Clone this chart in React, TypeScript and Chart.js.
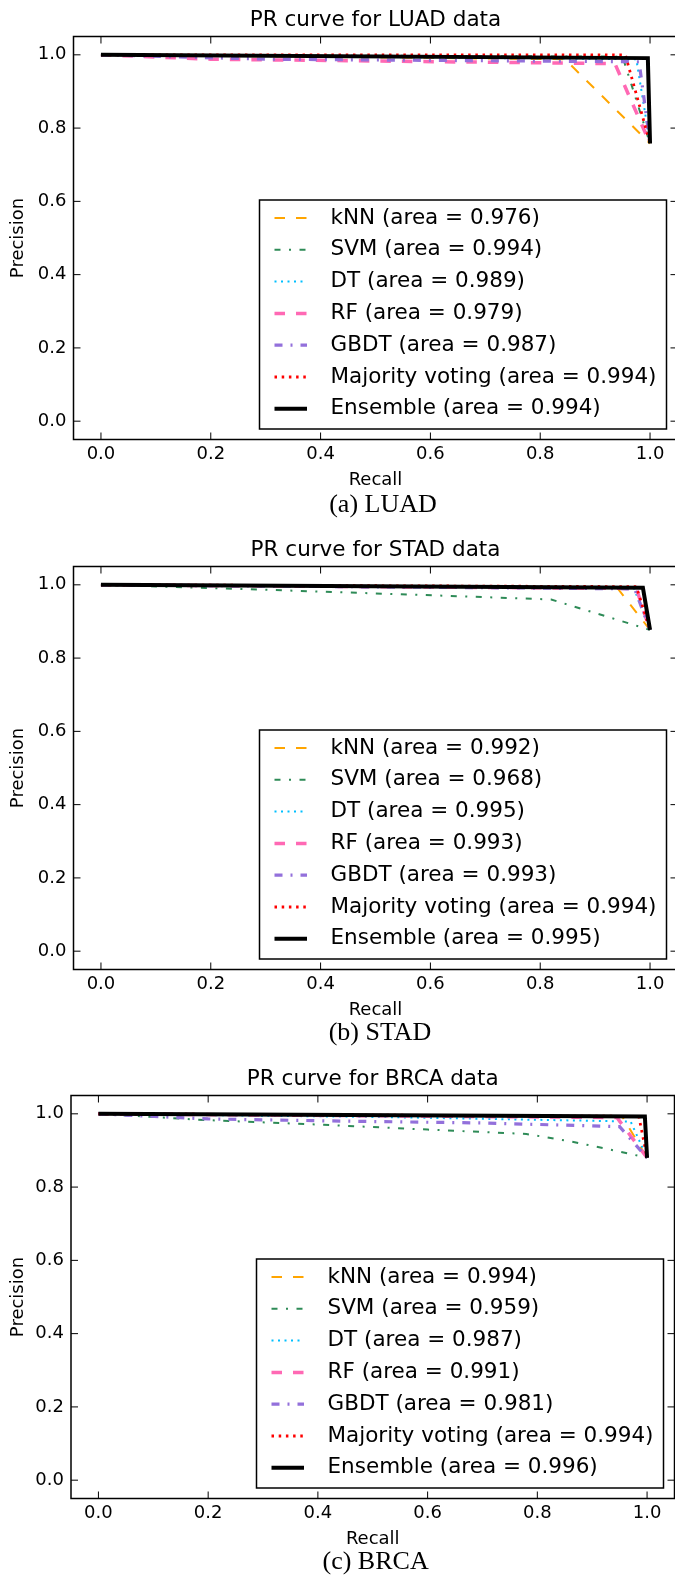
import React, { useEffect, useRef } from 'react';
import { Chart, registerables } from 'chart.js';

Chart.register(...registerables);

// ---------- shared labels / ticks ----------
const MODELS = ['kNN', 'SVM', 'DT', 'RF', 'GBDT', 'Majority voting', 'Ensemble'];
const X_TICKS = [0, 0.2, 0.4, 0.6, 0.8, 1.0];
const Y_TICKS = [0, 0.2, 0.4, 0.6, 0.8, 1.0];

// ---------- LUAD (recall, precision) ----------
const LUAD_KNN = [[0, 1], [0.845, 0.988], [1, 0.758]];
const LUAD_SVM = [[0, 1], [0.95, 0.995], [1, 0.758]];
const LUAD_DT = [[0, 1], [0.975, 0.988], [1, 0.758]];
const LUAD_RF = [[0, 1], [0.2, 0.988], [0.936, 0.976], [1, 0.758]];
const LUAD_GBDT = [[0, 1], [0.3, 0.988], [0.98, 0.981], [1, 0.758]];
const LUAD_MAJ = [[0, 1], [0.955, 1.0], [1, 0.758]];
const LUAD_ENS = [[0, 1], [0.996, 0.991], [1, 0.758]];
const LUAD_AREAS = ['0.976', '0.994', '0.989', '0.979', '0.987', '0.994', '0.994'];

// ---------- STAD ----------
const STAD_KNN = [[0, 1], [0.94, 0.992], [1, 0.877]];
const STAD_SVM = [[0, 1], [0.27, 0.988], [0.57, 0.973], [0.82, 0.96], [1, 0.877]];
const STAD_DT = [[0, 1], [0.97, 0.993], [1, 0.877]];
const STAD_RF = [[0, 1], [0.975, 0.99], [1, 0.877]];
const STAD_GBDT = [[0, 1], [0.972, 0.989], [1, 0.877]];
const STAD_MAJ = [[0, 1], [0.975, 0.995], [1, 0.877]];
const STAD_ENS = [[0, 1], [0.987, 0.992], [1, 0.877]];
const STAD_AREAS = ['0.992', '0.968', '0.995', '0.993', '0.993', '0.994', '0.995'];

// ---------- BRCA ----------
const BRCA_KNN = [[0, 1], [0.955, 0.992], [1, 0.88]];
const BRCA_SVM = [[0, 1], [0.06, 0.995], [0.18, 0.984], [0.41, 0.97], [0.6, 0.957], [0.78, 0.945], [0.86, 0.925], [0.95, 0.897], [1, 0.88]];
const BRCA_DT = [[0, 1], [0.53, 0.991], [0.97, 0.979], [1, 0.88]];
const BRCA_RF = [[0, 1], [0.945, 0.99], [1, 0.88]];
const BRCA_GBDT = [[0, 1], [0.2, 0.986], [0.45, 0.98], [0.7, 0.975], [0.95, 0.965], [1, 0.88]];
const BRCA_MAJ = [[0, 1], [0.985, 0.993], [1, 0.88]];
const BRCA_ENS = [[0, 1], [0.996, 0.993], [1, 0.88]];
const BRCA_AREAS = ['0.994', '0.959', '0.987', '0.991', '0.981', '0.994', '0.996'];

// ---------- styles ----------
const COLORS = ['#FFA500', '#2E8B57', '#00BFFF', '#FF69B4', '#9370DB', '#FF0000', '#000000'];
const WIDTHS = [2, 2, 2, 3.5, 3.2, 2.8, 4];
const DASHES = [[10.5, 11], [6, 8.5, 2, 8.5], [2, 4.5], [10.5, 11], [8, 8, 2, 8], [2.5, 4.7], []];

const SANS = '"DejaVu Sans", sans-serif';
const SERIF = '"Liberation Serif", serif';
const CANVAS_W = 700;
const CANVAS_H = 500;
const AREA_TOP = 36.5;
const AREA_BOTTOM = 439.5;

type PanelCfg = {
  title: string;
  caption: string;
  curves: number[][][];
  areas: string[];
  top: number;
  areaLeft: number;
  areaRight: number;
  captionX: number;
  captionY: number;
};

const PANELS: PanelCfg[] = [
  {
    title: 'PR curve for LUAD data',
    caption: '(a) LUAD',
    curves: [LUAD_KNN, LUAD_SVM, LUAD_DT, LUAD_RF, LUAD_GBDT, LUAD_MAJ, LUAD_ENS],
    areas: LUAD_AREAS,
    top: 0,
    areaLeft: 73.5,
    areaRight: 677.5,
    captionX: 383,
    captionY: 504,
  },
  {
    title: 'PR curve for STAD data',
    caption: '(b) STAD',
    curves: [STAD_KNN, STAD_SVM, STAD_DT, STAD_RF, STAD_GBDT, STAD_MAJ, STAD_ENS],
    areas: STAD_AREAS,
    top: 530,
    areaLeft: 73.5,
    areaRight: 677.5,
    captionX: 380,
    captionY: 502,
  },
  {
    title: 'PR curve for BRCA data',
    caption: '(c) BRCA',
    curves: [BRCA_KNN, BRCA_SVM, BRCA_DT, BRCA_RF, BRCA_GBDT, BRCA_MAJ, BRCA_ENS],
    areas: BRCA_AREAS,
    top: 1059,
    areaLeft: 71,
    areaRight: 674.5,
    captionX: 375.6,
    captionY: 502,
  },
];

function makeDecorPlugin(cfg: PanelCfg) {
  return {
    id: 'decor' + cfg.caption.replace(/\W/g, ''),
    afterDraw(chart: any) {
      const ctx = chart.ctx as CanvasRenderingContext2D;
      const { left, right, top, bottom } = chart.chartArea;
      const xs = chart.scales.x;
      const ys = chart.scales.y;
      ctx.save();
      // inward ticks on all four sides
      ctx.strokeStyle = '#000';
      ctx.lineWidth = 1;
      ctx.setLineDash([]);
      ctx.beginPath();
      for (const v of X_TICKS) {
        const px = xs.getPixelForValue(v);
        ctx.moveTo(px, bottom);
        ctx.lineTo(px, bottom - 7);
        ctx.moveTo(px, top);
        ctx.lineTo(px, top + 7);
      }
      for (const v of Y_TICKS) {
        const py = ys.getPixelForValue(v);
        ctx.moveTo(left, py);
        ctx.lineTo(left + 7, py);
        ctx.moveTo(right, py);
        ctx.lineTo(right - 7, py);
      }
      ctx.stroke();
      // frame
      ctx.lineWidth = 1.5;
      ctx.strokeRect(left, top, right - left, bottom - top);

      // legend
      const bw = 407;
      const bh = 229;
      const bx = right - 11 - bw;
      const by = bottom - 10.5 - bh;
      ctx.fillStyle = '#fff';
      ctx.fillRect(bx, by, bw, bh);
      ctx.lineWidth = 1.5;
      ctx.strokeStyle = '#000';
      ctx.strokeRect(bx, by, bw, bh);
      ctx.font = `21.5px ${SANS}`;
      ctx.textBaseline = 'middle';
      ctx.textAlign = 'left';
      MODELS.forEach((name, i) => {
        const y = by + 18 + i * 31.8;
        ctx.save();
        ctx.strokeStyle = COLORS[i];
        ctx.lineWidth = WIDTHS[i];
        ctx.lineCap = 'butt';
        ctx.setLineDash(DASHES[i]);
        ctx.beginPath();
        ctx.moveTo(bx + 15, y);
        ctx.lineTo(bx + 47.5, y);
        ctx.stroke();
        ctx.restore();
        ctx.fillStyle = '#000';
        ctx.fillText(`${name} (area = ${cfg.areas[i]})`, bx + 71, y);
      });
      ctx.restore();
    },
  };
}

function Panel({ cfg }: { cfg: PanelCfg }) {
  const ref = useRef<HTMLCanvasElement>(null);
  useEffect(() => {
    if (!ref.current) return;
    const datasets = cfg.curves.map((pts, i) => ({
      label: MODELS[i],
      data: pts.map(([x, y]) => ({ x, y })),
      borderColor: COLORS[i],
      backgroundColor: COLORS[i],
      borderWidth: WIDTHS[i],
      borderDash: DASHES[i],
      borderCapStyle: 'butt' as const,
      pointRadius: 0,
      tension: 0,
      fill: false,
      order: 10 - i,
    }));
    const chart = new Chart(ref.current, {
      type: 'line',
      data: { datasets },
      plugins: [makeDecorPlugin(cfg)],
      options: {
        animation: false,
        responsive: false,
        devicePixelRatio: 1,
        layout: { padding: { left: 0, right: CANVAS_W - cfg.areaRight, top: 0, bottom: 0 } },
        plugins: {
          legend: { display: false },
          tooltip: { enabled: false },
          title: {
            display: true,
            text: cfg.title,
            fullSize: false,
            color: '#000',
            font: { family: SANS, size: 21.5, weight: 'normal', lineHeight: 1.2 },
            padding: { top: 7.1, bottom: AREA_TOP - 7.1 - 25.8 },
          },
        },
        scales: {
          x: {
            type: 'linear',
            min: -0.05,
            max: 1.05,
            afterBuildTicks: (s: any) => {
              s.ticks = X_TICKS.map((v) => ({ value: v }));
            },
            afterFit: (s: any) => {
              s.height = CANVAS_H - AREA_BOTTOM;
            },
            grid: { display: false, drawTicks: false },
            border: { display: false },
            ticks: {
              color: '#000',
              font: { family: SANS, size: 18 },
              padding: 4,
              maxRotation: 0,
              autoSkip: false,
              callback: (v: any) => Number(v).toFixed(1),
            },
            title: {
              display: true,
              text: 'Recall',
              color: '#000',
              font: { family: SANS, size: 18, lineHeight: 1.2 },
              padding: { top: 4, bottom: 8.7 },
            },
          },
          y: {
            type: 'linear',
            min: -0.05,
            max: 1.05,
            afterBuildTicks: (s: any) => {
              s.ticks = Y_TICKS.map((v) => ({ value: v }));
            },
            afterFit: (s: any) => {
              s.width = cfg.areaLeft;
            },
            grid: { display: false, drawTicks: false },
            border: { display: false },
            ticks: {
              color: '#000',
              font: { family: SANS, size: 18 },
              padding: 7,
              autoSkip: false,
              callback: (v: any) => Number(v).toFixed(1),
            },
            title: {
              display: true,
              text: 'Precision',
              color: '#000',
              font: { family: SANS, size: 18, lineHeight: 1.2 },
              padding: { top: 7.2, bottom: 4 },
            },
          },
        },
      } as any,
    });
    return () => chart.destroy();
  }, [cfg]);

  return (
    <>
      <canvas
        ref={ref}
        width={CANVAS_W}
        height={CANVAS_H}
        style={{ position: 'absolute', left: 0, top: cfg.top, width: CANVAS_W, height: CANVAS_H, display: 'block' }}
      />
      <div
        style={{
          position: 'absolute',
          left: cfg.captionX - 100,
          width: 200,
          top: cfg.top + cfg.captionY - 13,
          height: 26,
          lineHeight: '26px',
          fontSize: 26,
          fontFamily: SERIF,
          textAlign: 'center',
          color: '#000',
          whiteSpace: 'nowrap',
        }}
      >
        {cfg.caption}
      </div>
    </>
  );
}

export default function App() {
  return (
    <div
      style={{
        position: 'absolute',
        left: 0,
        top: 0,
        width: 675,
        height: 1576,
        overflow: 'hidden',
        background: '#fff',
      }}
    >
      {PANELS.map((p) => (
        <Panel key={p.caption} cfg={p} />
      ))}
    </div>
  );
}
